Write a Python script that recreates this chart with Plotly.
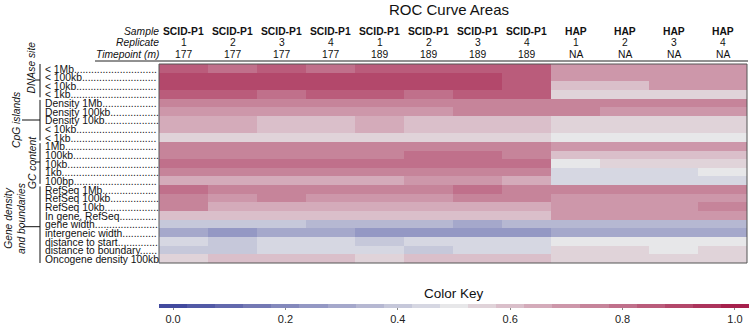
import plotly.graph_objects as go

# ---------------- data ----------------
samples = ["SCID-P1"] * 8 + ["HAP"] * 4
replicates = ["1", "2", "3", "4", "1", "2", "3", "4", "1", "2", "3", "4"]
timepoints = ["177", "177", "177", "177", "189", "189", "189", "189", "NA", "NA", "NA", "NA"]

row_labels = [
    "< 1Mb", "< 100kb", "< 10kb", "< 1kb",
    "Density 1Mb", "Density 100kb", "Density 10kb", "< 10kb", "< 1kb",
    "1Mb", "100kb", "10kb", "1kb", "100bp",
    "RefSeq 1Mb", "RefSeq 100kb", "RefSeq 10kb", "In gene, RefSeq", "gene width",
    "intergeneic width", "distance to start", "distance to boundary", "Oncogene density 100kb",
]

group_names = ["DNAse site", "CpG islands", "GC content", "Gene density<br>and boundaries"]
group_rows = [(0, 3), (4, 8), (9, 13), (14, 22)]

roc_auc = [
    [0.86, 0.81, 0.86, 0.81, 0.86, 0.86, 0.86, 0.86, 0.70, 0.70, 0.70, 0.70],
    [0.90, 0.90, 0.90, 0.90, 0.90, 0.90, 0.90, 0.86, 0.70, 0.70, 0.70, 0.70],
    [0.90, 0.90, 0.90, 0.90, 0.90, 0.90, 0.90, 0.86, 0.59, 0.59, 0.70, 0.70],
    [0.86, 0.86, 0.81, 0.86, 0.86, 0.81, 0.86, 0.86, 0.54, 0.54, 0.54, 0.54],
    [0.76, 0.76, 0.76, 0.76, 0.76, 0.76, 0.76, 0.76, 0.76, 0.76, 0.76, 0.76],
    [0.71, 0.71, 0.71, 0.71, 0.71, 0.71, 0.76, 0.76, 0.76, 0.71, 0.71, 0.71],
    [0.64, 0.64, 0.59, 0.59, 0.64, 0.59, 0.59, 0.59, 0.55, 0.55, 0.55, 0.55],
    [0.64, 0.64, 0.59, 0.59, 0.64, 0.59, 0.59, 0.59, 0.55, 0.55, 0.55, 0.55],
    [0.55, 0.55, 0.55, 0.55, 0.55, 0.55, 0.55, 0.55, 0.50, 0.50, 0.50, 0.50],
    [0.76, 0.76, 0.76, 0.76, 0.76, 0.76, 0.76, 0.76, 0.71, 0.71, 0.71, 0.71],
    [0.76, 0.76, 0.76, 0.76, 0.76, 0.81, 0.81, 0.76, 0.60, 0.60, 0.60, 0.60],
    [0.81, 0.81, 0.81, 0.81, 0.81, 0.81, 0.81, 0.81, 0.50, 0.55, 0.55, 0.55],
    [0.76, 0.76, 0.76, 0.76, 0.76, 0.76, 0.76, 0.76, 0.45, 0.45, 0.45, 0.50],
    [0.64, 0.64, 0.64, 0.64, 0.64, 0.70, 0.70, 0.64, 0.45, 0.45, 0.45, 0.45],
    [0.81, 0.76, 0.76, 0.76, 0.76, 0.76, 0.81, 0.76, 0.76, 0.76, 0.76, 0.76],
    [0.76, 0.69, 0.76, 0.69, 0.69, 0.69, 0.76, 0.76, 0.69, 0.69, 0.69, 0.69],
    [0.76, 0.65, 0.65, 0.65, 0.65, 0.65, 0.65, 0.65, 0.69, 0.69, 0.69, 0.76],
    [0.60, 0.60, 0.60, 0.60, 0.60, 0.60, 0.60, 0.60, 0.69, 0.69, 0.69, 0.69],
    [0.40, 0.40, 0.40, 0.35, 0.35, 0.35, 0.31, 0.35, 0.35, 0.35, 0.35, 0.35],
    [0.31, 0.26, 0.31, 0.31, 0.26, 0.26, 0.26, 0.26, 0.31, 0.31, 0.31, 0.31],
    [0.46, 0.41, 0.46, 0.46, 0.41, 0.46, 0.46, 0.46, 0.50, 0.50, 0.50, 0.50],
    [0.41, 0.41, 0.46, 0.46, 0.46, 0.41, 0.46, 0.46, 0.54, 0.54, 0.50, 0.54],
    [0.56, 0.61, 0.61, 0.61, 0.56, 0.61, 0.61, 0.61, 0.54, 0.54, 0.54, 0.54],
]

key_ticks = [0.0, 0.2, 0.4, 0.6, 0.8, 1.0]

# ---------------- style / layout helpers ----------------
W, H = 750, 326
PL, PR, PT, PB = 159, 747, 64, 263          # plot area in page pixels
FONT = "Liberation Sans, Arial, Helvetica, sans-serif"
FS = 10.3


def px(x):
    return (x - PL) / (PR - PL)


def py(y):
    return (PB - y) / (PB - PT)


# stepped colour scale, 21 bins of width 0.05 centred on multiples of 0.05
LOW, MID, HIGH = (66, 74, 158), (231, 231, 233), (166, 32, 76)
ZMIN, ZMAX, NB = -0.025, 1.025, 21


def col_at(v):
    if v <= 0.5:
        t = v / 0.5
        a, b = LOW, MID
    else:
        t = (v - 0.5) / 0.5
        a, b = MID, HIGH
    c = [round(a[i] + (b[i] - a[i]) * t) for i in range(3)]
    return f"rgb({c[0]},{c[1]},{c[2]})"


colorscale = []
for k in range(NB):
    c = col_at(k * 0.05)
    colorscale.append([k / NB, c])
    colorscale.append([(k + 1) / NB, c])

# Arial advance widths (per 1000 em) for dotted leaders
AW = {" ": 278, "<": 584, ".": 278, ",": 278, "M": 833, "b": 556, "k": 500, "D": 722,
      "e": 556, "n": 556, "s": 500, "i": 222, "t": 278, "y": 500, "p": 556, "I": 278,
      "g": 556, "R": 722, "f": 278, "S": 667, "q": 556, "Q": 778, "w": 722, "d": 556,
      "h": 556, "r": 333, "c": 500, "o": 556, "a": 556, "u": 556, "O": 778, "l": 222,
      "m": 833}


def text_w(s):
    return sum(AW.get(ch, 556) for ch in s) * FS / 1000.0


ncol = len(samples)
nrow = len(row_labels)

fig = go.Figure()
fig.add_trace(go.Heatmap(
    z=roc_auc,
    x=list(range(ncol)),
    y=list(range(nrow)),
    colorscale=colorscale,
    zmin=ZMIN, zmax=ZMAX,
    xgap=0, ygap=0,
    hovertemplate="%{z:.2f}<extra></extra>",
    colorbar=dict(
        orientation="h",
        thickness=4,
        lenmode="pixels", len=590,
        x=px(454), xanchor="center",
        y=py(304), yanchor="top", ypad=0, xpad=0,
        outlinewidth=0,
        tickvals=key_ticks,
        ticktext=[f"{t:.1f}" for t in key_ticks],
        ticks="outside", ticklen=2, tickcolor="#888",
        tickfont=dict(family=FONT, size=11, color="#222"),
    ),
))

ann = []
# title
ann.append(dict(text="ROC Curve Areas", x=px(449), y=py(10), xref="paper", yref="paper",
                showarrow=False, xanchor="center", yanchor="middle",
                font=dict(family=FONT, size=15, color="#111")))
# color key title
ann.append(dict(text="Color Key", x=px(454), y=py(293), xref="paper", yref="paper",
                showarrow=False, xanchor="center", yanchor="middle",
                font=dict(family=FONT, size=13.5, color="#111")))
# header row names
for txt, yy in [("Sample", 31), ("Replicate", 42.5), ("Timepoint (m)", 54)]:
    ann.append(dict(text=f"<i>{txt}</i>", x=px(161), y=py(yy), xref="paper", yref="paper",
                    showarrow=False, xanchor="right", yanchor="middle",
                    font=dict(family=FONT, size=FS, color="#111")))
# header columns
for i in range(ncol):
    for txt, yy in [(f"<b>{samples[i]}</b>", 31), (replicates[i], 42.5), (timepoints[i], 54)]:
        ann.append(dict(text=txt, x=i, y=py(yy), xref="x", yref="paper",
                        showarrow=False, xanchor="center", yanchor="middle",
                        font=dict(family=FONT, size=FS, color="#111")))
# row labels with dotted leaders
for r, lab in enumerate(row_labels):
    avail = 157 - 43 - text_w(lab)
    nd = max(0, int(avail / (0.278 * FS)))
    ann.append(dict(text=lab + "." * nd, x=px(43), y=r + 0.08, xref="paper", yref="y",
                    showarrow=False, xanchor="left", yanchor="middle",
                    font=dict(family=FONT, size=FS, color="#111")))
# group labels
for name, (gx, gy) in zip(group_names, [(31, 67.5), (16, 120), (32, 163), (15, 219)]):
    ann.append(dict(text=f"<i>{name}</i>", x=px(gx), y=py(gy), xref="paper", yref="paper",
                    showarrow=False, xanchor="center", yanchor="middle", textangle=-90,
                    font=dict(family=FONT, size=FS, color="#111")))

shapes = []
# bracket lines
ends_extra = [0, 0, 0, 0.35]
for (a, b), ex in zip(group_rows, ends_extra):
    y0 = a - 0.5 + (0.0 if a == 0 else 0.15)
    y1 = b + 0.5 - 0.15 + ex
    shapes.append(dict(type="line", xref="paper", yref="y", x0=px(40), x1=px(40),
                       y0=y0, y1=y1, line=dict(color="#111", width=1)))
for (x0, yy) in [(35, 80), (22, 120), (35, 162), (23, 226.7)]:
    shapes.append(dict(type="line", xref="paper", yref="paper", x0=px(x0), x1=px(40),
                       y0=py(yy), y1=py(yy), line=dict(color="#111", width=1)))
# header rule
shapes.append(dict(type="line", xref="paper", yref="paper", x0=px(95), x1=px(748),
                   y0=py(61), y1=py(61), line=dict(color="#222", width=1)))
# heatmap frame
shapes.append(dict(type="rect", xref="paper", yref="paper", x0=0, x1=1, y0=0, y1=1,
                   line=dict(color="#555", width=1)))

fig.update_layout(
    width=W, height=H,
    margin=dict(l=PL, r=W - PR, t=PT, b=H - PB, pad=0, autoexpand=False),
    paper_bgcolor="white", plot_bgcolor="white",
    xaxis=dict(range=[-0.5, ncol - 0.5], showticklabels=False, showgrid=False,
               zeroline=False, ticks="", fixedrange=True),
    yaxis=dict(range=[nrow - 0.5, -0.5], showticklabels=False, showgrid=False,
               zeroline=False, ticks="", fixedrange=True),
    annotations=ann,
    shapes=shapes,
    font=dict(family=FONT),
    showlegend=False,
)

# remove the browser's default 8px page margin so the figure fills the window exactly
fig.write_html(
    "out.html",
    config={"displayModeBar": False},
    post_script="document.body.style.margin='0';document.documentElement.style.overflow='hidden';",
)
